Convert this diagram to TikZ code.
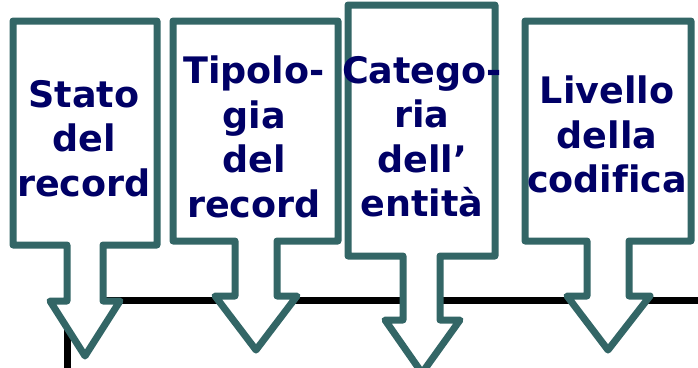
\documentclass[tikz,border=0pt]{standalone}
\usepackage{fontspec}
\setmainfont[Ligatures=NoCommon]{DejaVu Sans}
\definecolor{tealrand}{HTML}{336666}
\definecolor{navytext}{HTML}{000066}
\begin{document}
\begin{tikzpicture}[x=1pt, y=-1pt,
		pfeilbox/.style={draw=tealrand, line width=7pt, line join=round, fill=white},
		beschriftung/.style={anchor=north, inner sep=0pt, align=center, text=navytext,
			font=\fontsize{36.5}{44.5}\selectfont\bfseries}]
		\useasboundingbox (0,0) rectangle (698,367);
		%achsen
		\coordinate (ecke) at (67.5,300.5);
		\coordinate (unten) at (67.5,370);
		\coordinate (rechts) at (700,300.5);
		\draw[line width=6.5pt] (unten) -- (ecke) -- (rechts);
		%
		\draw[pfeilbox] (13,21) -- (157,21) -- (157,245) -- (103,245) -- (103,301) -- (120,301)
			-- (85,356) -- (50,301) -- (67,301) -- (67,245) -- (13,245) -- cycle;
		\node[beschriftung] (stato) at (84,80) {Stato\\del\\record};
		%
		\draw[pfeilbox] (173,21) -- (338,21) -- (338,241) -- (277,241) -- (277,296) -- (297,296)
			-- (256,350) -- (215,296) -- (235,296) -- (235,241) -- (173,241) -- cycle;
		\node[beschriftung] (tipologia) at (254,56) {Tipolo-\\gia\\del\\record};
		%
		\draw[pfeilbox] (348,5) -- (495,5) -- (495,256) -- (440,256) -- (440,320) -- (460,320)
			-- (422,373) -- (385,320) -- (403,320) -- (403,256) -- (348,256) -- cycle;
		\node[beschriftung] (categoria) at (422,56) {Catego-\\ria\\dell’\\entità};
		%
		\draw[pfeilbox] (525,21) -- (691,21) -- (691,241) -- (629,241) -- (629,296) -- (650,296)
			-- (608,350) -- (567,296) -- (587,296) -- (587,241) -- (525,241) -- cycle;
		\node[beschriftung] (livello) at (607,76) {Livello\\della\\codifica};
	\end{tikzpicture}
\end{document}
